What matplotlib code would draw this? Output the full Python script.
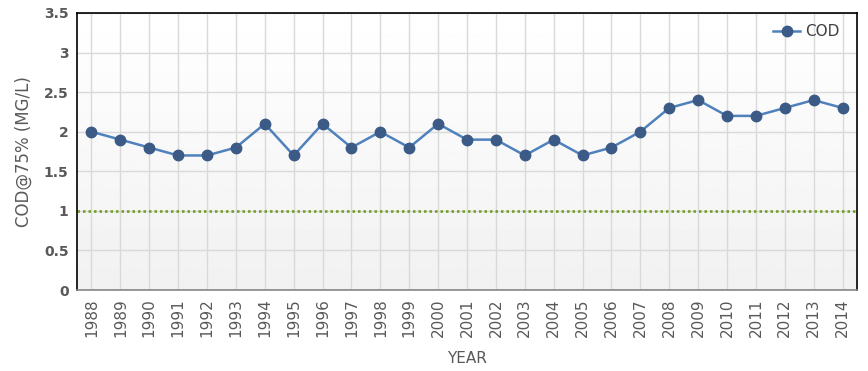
import numpy as np
import matplotlib.pyplot as plt

years = [str(y) for y in range(1988, 2015)]
cod = [2.0, 1.9, 1.8, 1.7, 1.7, 1.8, 2.1, 1.7, 2.1, 1.8, 2.0, 1.8, 2.1, 1.9,
       1.9, 1.7, 1.9, 1.7, 1.8, 2.0, 2.3, 2.4, 2.2, 2.2, 2.3, 2.4, 2.3]
threshold = 1.0

fig = plt.figure(figsize=(8.68, 3.71), dpi=100)
ax = fig.add_axes([77/868, 1 - 290/371, 780/868, 277/371])

x = np.arange(len(years))
ax.set_xlim(-0.5, len(years) - 0.5)
ax.set_ylim(0, 3.5)

# gradient background, white at top to light grey at bottom
grad = np.linspace(1.0, 0.945, 256).reshape(-1, 1)
ax.imshow(grad, extent=[-0.5, len(years) - 0.5, 0, 3.5], aspect='auto',
          cmap='gray', vmin=0, vmax=1, zorder=0, origin='upper')

ax.set_xticks(x)
ax.set_xticklabels(years, rotation=90, fontsize=11, color='#595959')
ax.set_yticks(np.arange(0, 3.51, 0.5))
ax.set_yticklabels(['0', '0.5', '1', '1.5', '2', '2.5', '3', '3.5'],
                   fontsize=10, color='#595959', fontweight='bold')
ax.tick_params(length=0, pad=6)
ax.grid(True, color='#d9d9d9', linewidth=1, zorder=1)
ax.set_axisbelow(True)

ax.axhline(threshold, color='#6e9a1e', linestyle=(0, (1.0, 1.2)), linewidth=1.8, zorder=2)
ax.plot(x, cod, color='#4f81bd', linewidth=1.8, marker='o', markersize=7.5,
        markerfacecolor='#3b5a85', markeredgecolor='#3b5a85', label='COD', zorder=3)

for s in ['left', 'top', 'right']:
    ax.spines[s].set_color('black')
    ax.spines[s].set_linewidth(1.2)
ax.spines['bottom'].set_color('#868686')
ax.spines['bottom'].set_linewidth(1.2)

ax.set_ylabel('COD@75% (MG/L)', fontsize=12, color='#595959', labelpad=8)
ax.set_xlabel('YEAR', fontsize=11, color='#595959', labelpad=10)

leg = ax.legend(loc='upper right', frameon=False, fontsize=11, handlelength=1.8,
                handletextpad=0.3, bbox_to_anchor=(0.995, 1.01))
for t in leg.get_texts():
    t.set_color('#404040')

fig.savefig('out.png', dpi=100)
